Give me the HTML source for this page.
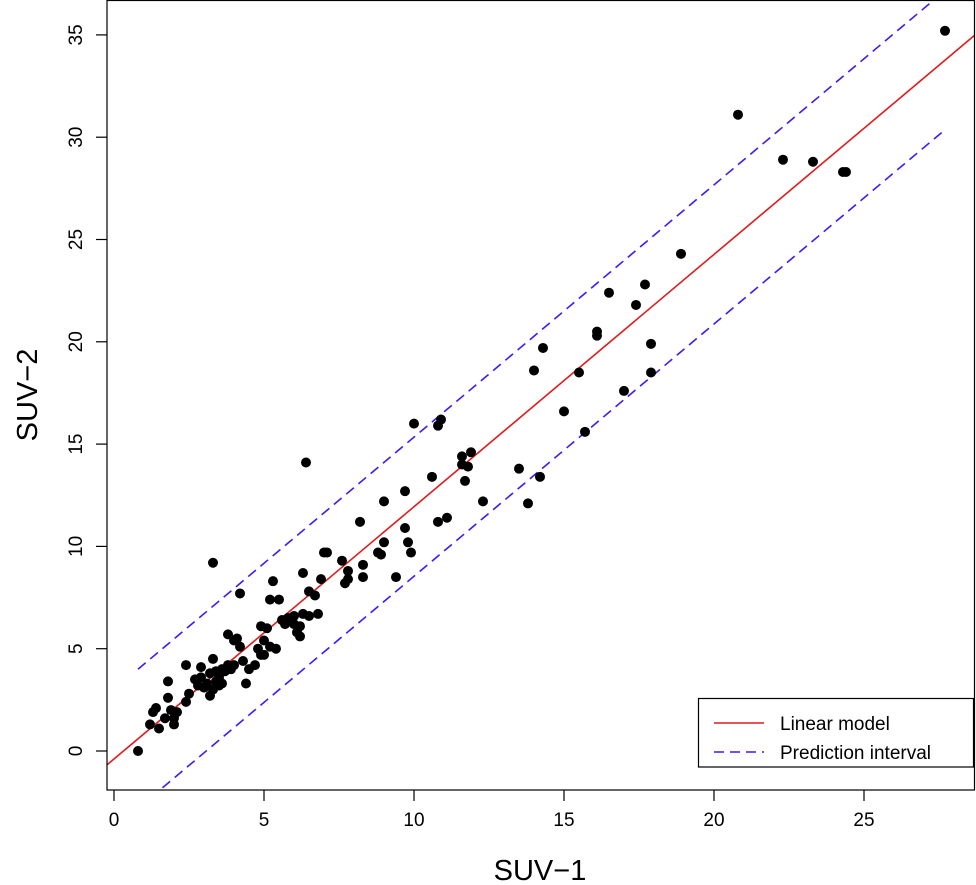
<!DOCTYPE html>
<html><head><meta charset="utf-8"><style>
html,body{margin:0;padding:0;background:#fff}
svg{display:block;font-family:"Liberation Sans",Arial,sans-serif}
</style></head><body>
<svg id="chart" width="976" height="885" xmlns="http://www.w3.org/2000/svg">
<defs><clipPath id="clip"><rect x="107" y="0" width="868" height="790"/></clipPath></defs>
<g id="marks" clip-path="url(#clip)"></g>
<rect x="107" y="0.5" width="867.5" height="789.5" fill="none" stroke="#000" stroke-width="1.2"/>
<g id="axes"></g>
<text x="540" y="880" font-size="29" text-anchor="middle">SUV−1</text>
<text transform="translate(37,395) rotate(-90)" font-size="29" text-anchor="middle">SUV−2</text>
<g>
<rect x="698.5" y="698.5" width="275" height="68.5" fill="#fff" stroke="#000" stroke-width="1.2"/>
<line x1="714" y1="723" x2="764" y2="723" stroke="#e31a1c" stroke-width="1.6"/>
<text x="780" y="730" font-size="19">Linear model</text>
<line x1="714" y1="752" x2="764" y2="752" stroke="#3a1aff" stroke-width="1.6" stroke-dasharray="10,6"/>
<text x="780" y="759" font-size="19">Prediction interval</text>
</g>
</svg>
<script>
const xTicks=[0,5,10,15,20,25];
const yTicks=[0,5,10,15,20,25,30,35];
const suv1=[0.8,1.2,1.3,1.4,1.5,1.7,1.8,1.8,1.9,2.0,2.0,2.1,2.4,2.4,2.5,2.7,2.8,2.9,2.9,3.0,3.1,3.2,3.2,3.3,3.3,3.3,3.4,3.4,3.5,3.5,3.6,3.6,3.7,3.8,3.8,3.9,4.0,4.0,4.1,4.2,4.2,4.3,4.4,4.5,4.7,4.8,4.9,4.9,5.0,5.0,5.1,5.2,5.2,5.3,5.4,5.5,5.6,5.7,5.8,6.0,6.0,6.1,6.2,6.2,6.3,6.3,6.4,6.5,6.5,6.7,6.8,6.9,7.0,7.1,7.6,7.7,7.8,7.8,8.2,8.3,8.3,8.8,8.9,9.0,9.0,9.4,9.7,9.7,9.8,9.9,10.0,10.6,10.8,10.8,10.9,11.1,11.6,11.6,11.7,11.8,11.9,12.3,13.5,13.8,14.0,14.2,14.3,15.0,15.5,15.7,16.1,16.1,16.5,17.0,17.4,17.7,17.9,17.9,18.9,20.8,22.3,23.3,24.3,24.4,27.7];
const suv2=[0,1.3,1.9,2.1,1.1,1.6,2.6,3.4,2.0,1.3,1.6,1.9,2.4,4.2,2.8,3.5,3.2,4.1,3.6,3.1,3.3,3.8,2.7,3.0,4.5,9.2,3.4,3.9,3.6,3.2,4.0,3.3,3.9,4.2,5.7,4.0,4.2,5.4,5.5,7.7,5.1,4.4,3.3,4.0,4.2,5.0,6.1,4.7,4.7,5.4,6.0,7.4,5.1,8.3,5.0,7.4,6.4,6.2,6.5,6.2,6.6,5.8,6.1,5.6,6.7,8.7,14.1,7.8,6.6,7.6,6.7,8.4,9.7,9.7,9.3,8.2,8.8,8.4,11.2,8.5,9.1,9.7,9.6,10.2,12.2,8.5,10.9,12.7,10.2,9.7,16.0,13.4,11.2,15.9,16.2,11.4,14.4,14.0,13.2,13.9,14.6,12.2,13.8,12.1,18.6,13.4,19.7,16.6,18.5,15.6,20.5,20.3,22.4,17.6,21.8,22.8,19.9,18.5,24.3,31.1,28.9,28.8,28.3,28.3,35.2];
const fit=[-0.39,1.233];
const piHalf=[3.4];
const piRange=[0.8,27.7];
const NS='http://www.w3.org/2000/svg';
const sx=v=>114+v*30, sy=v=>751-v*20.46;
const marks=document.getElementById('marks'), axes=document.getElementById('axes');
function mk(tag,attrs,parent){const e=document.createElementNS(NS,tag);for(const k in attrs)e.setAttribute(k,attrs[k]);parent.appendChild(e);return e;}
// fit line
let l=mk('line',{x1:sx(-1),y1:sy(fit[0]-fit[1]),x2:sx(30),y2:sy(fit[0]+fit[1]*30),stroke:'#e31a1c','stroke-width':1.6},marks);


[1,-1].forEach(s=>{
  const a=piRange[0],b=piRange[1];
  const p=mk('line',{x1:sx(a),y1:sy(fit[0]+fit[1]*a+s*piHalf[0]),x2:sx(b),y2:sy(fit[0]+fit[1]*b+s*piHalf[0]),stroke:'#3a1aff','stroke-width':1.6,'stroke-dasharray':'10,6'},marks);
  
  
});
suv1.forEach((v,i)=>{
  const c=mk('circle',{cx:sx(v),cy:sy(suv2[i]),r:5,fill:'#000'},marks);
  
  
});
xTicks.forEach(t=>{
  const ln=mk('line',{x1:sx(t),y1:790,x2:sx(t),y2:801,stroke:'#000','stroke-width':1.2},axes);
  
  
  const tx=mk('text',{x:sx(t),y:826,'font-size':19,'text-anchor':'middle'},axes);
  tx.textContent=t;
  
  
});
yTicks.forEach(t=>{
  const ln=mk('line',{x1:96,y1:sy(t),x2:107,y2:sy(t),stroke:'#000','stroke-width':1.2},axes);
  
  
  const tx=mk('text',{transform:`translate(82,${sy(t)}) rotate(-90)`,'font-size':19,'text-anchor':'middle'},axes);
  tx.textContent=t;
  
  
});
</script>
</body></html>
